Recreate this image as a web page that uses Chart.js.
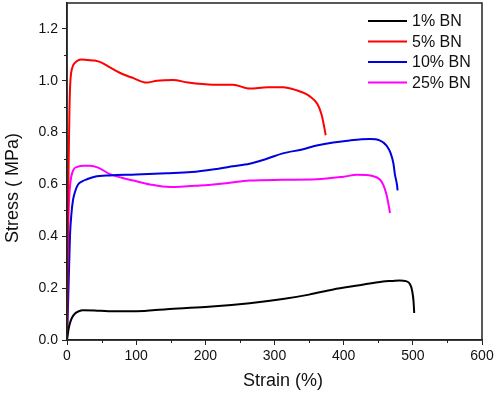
<!DOCTYPE html>
<html>
<head>
<meta charset="utf-8">
<script src="https://cdn.jsdelivr.net/npm/chart.js@4.4.1/dist/chart.umd.min.js"></script>
<style>
html,body{margin:0;padding:0;background:#fff;}
canvas{display:block;}
</style>
</head>
<body>
<canvas id="c" width="498" height="393"></canvas>
<script>
const seriesNames = ['1% BN', '5% BN', '10% BN', '25% BN'];
const seriesColors = ['#000000', '#ff0000', '#0000e0', '#ff00ff'];
const xTitle = 'Strain (%)';
const yTitle = 'Stress ( MPa)';

const strain1 = [0, 1, 2.5, 4.3, 7, 11.6, 17, 23, 40, 60, 100, 144, 200, 264, 312, 350, 385, 420, 457, 470, 481, 490, 496, 499, 501, 502];
const stress1 = [0, 0.02, 0.045, 0.065, 0.085, 0.102, 0.111, 0.115, 0.114, 0.111, 0.111, 0.119, 0.127, 0.142, 0.158, 0.175, 0.195, 0.21, 0.226, 0.228, 0.23, 0.227, 0.215, 0.19, 0.15, 0.104];

const strain5 = [0, 1.5, 2.5, 3.5, 4.5, 6, 9, 14, 20, 30, 40, 50, 60, 77, 96, 115, 130, 153, 175, 211, 240, 264, 290, 312, 330, 351, 362, 368, 372, 374];
const stress5 = [0, 0.5, 0.7, 0.88, 0.98, 1.03, 1.06, 1.075, 1.082, 1.08, 1.078, 1.07, 1.055, 1.03, 1.01, 0.993, 1.0, 1.003, 0.993, 0.985, 0.985, 0.97, 0.975, 0.975, 0.965, 0.94, 0.91, 0.87, 0.82, 0.79];

const strain10 = [0, 2, 4.3, 6.5, 8.7, 12, 16, 22, 29, 40, 62, 100, 144, 180, 216, 240, 264, 290, 312, 340, 361, 385, 409, 438, 452, 462, 468, 472, 474, 477, 478];
const stress10 = [0, 0.18, 0.4, 0.49, 0.54, 0.575, 0.6, 0.612, 0.62, 0.63, 0.635, 0.638, 0.643, 0.648, 0.66, 0.67, 0.68, 0.7, 0.72, 0.735, 0.75, 0.762, 0.77, 0.775, 0.77, 0.75, 0.72, 0.68, 0.64, 0.6, 0.577];

const strain25 = [0, 1, 2, 3, 5, 9, 15, 25, 33, 45, 62, 80, 96, 120, 149, 192, 230, 264, 312, 361, 400, 419, 443, 452, 457, 462, 465, 467];
const stress25 = [0, 0.3, 0.45, 0.54, 0.61, 0.655, 0.668, 0.672, 0.672, 0.665, 0.64, 0.625, 0.615, 0.6, 0.59, 0.596, 0.605, 0.615, 0.618, 0.62, 0.63, 0.637, 0.632, 0.62, 0.6, 0.56, 0.52, 0.49];

const xTicks = [0, 100, 200, 300, 400, 500, 600];
const xMinor = [50, 150, 250, 350, 450, 550];
const yTicks = [0, 0.2, 0.4, 0.6, 0.8, 1.0, 1.2];
const yMinor = [0.1, 0.3, 0.5, 0.7, 0.9, 1.1];

const strains = [strain1, strain5, strain10, strain25];
const stresses = [stress1, stress5, stress10, stress25];

const datasets = seriesNames.map((name, i) => ({
  label: name,
  data: strains[i].map((x, k) => ({x: x, y: stresses[i][k]})),
  borderColor: seriesColors[i],
  backgroundColor: seriesColors[i],
  borderWidth: 2,
  pointRadius: 0,
  cubicInterpolationMode: 'monotone',
  fill: false
}));

const FONT = '"Liberation Sans", Arial, sans-serif';

const framePlugin = {
  id: 'frame',
  afterDraw(chart) {
    const ctx = chart.ctx;
    const a = chart.chartArea;
    const xs = chart.scales.x, ys = chart.scales.y;
    ctx.save();
    ctx.strokeStyle = '#222';
    ctx.lineWidth = 1.5;
    ctx.strokeRect(a.left, a.top, a.right - a.left, a.bottom - a.top);
    ctx.lineWidth = 1;
    ctx.beginPath();
    xMinor.forEach(v => {
      const px = Math.round(xs.getPixelForValue(v)) + 0.5;
      ctx.moveTo(px, a.bottom);
      ctx.lineTo(px, a.bottom + 3);
    });
    yMinor.forEach(v => {
      const py = Math.round(ys.getPixelForValue(v)) + 0.5;
      ctx.moveTo(a.left, py);
      ctx.lineTo(a.left - 3, py);
    });
    ctx.stroke();
    // axis titles
    ctx.fillStyle = '#111';
    ctx.font = '18px ' + FONT;
    ctx.textAlign = 'center';
    ctx.textBaseline = 'middle';
    ctx.fillText(xTitle, 283, 381);
    ctx.save();
    ctx.translate(13, 188);
    ctx.rotate(-Math.PI / 2);
    ctx.fillText(yTitle, 0, 0);
    ctx.restore();
    // legend
    ctx.font = '16px ' + FONT;
    ctx.textBaseline = 'middle';
    ctx.textAlign = 'left';
    chart.data.datasets.forEach((ds, i) => {
      const y = 21 + i * 20.5;
      ctx.strokeStyle = ds.borderColor;
      ctx.lineWidth = 2;
      ctx.beginPath();
      ctx.moveTo(368, y);
      ctx.lineTo(407, y);
      ctx.stroke();
      ctx.fillStyle = '#111';
      ctx.fillText(ds.label, 412, y + 1);
    });
    ctx.restore();
  }
};

const bgPlugin = {
  id: 'bg',
  beforeDraw(chart) {
    const ctx = chart.ctx;
    ctx.save();
    ctx.fillStyle = '#fff';
    ctx.fillRect(0, 0, chart.width, chart.height);
    ctx.restore();
  }
};

new Chart(document.getElementById('c'), {
  type: 'line',
  data: { datasets: datasets },
  options: {
    responsive: false,
    animation: false,
    layout: { padding: { top: 3, right: 16, left: 0, bottom: 0 } },
    plugins: { legend: { display: false }, tooltip: { enabled: false } },
    scales: {
      x: {
        type: 'linear',
        min: 0, max: 600,
        afterBuildTicks: s => { s.ticks = xTicks.map(v => ({value: v})); },
        afterFit: s => { s.height = 53; s.paddingLeft = 0; s.paddingRight = 0; },
        ticks: { font: { family: FONT, size: 14 }, color: '#111', padding: 3, maxRotation: 0,
                 callback: v => String(v) },
        grid: { drawOnChartArea: false, tickLength: 5, tickColor: '#222', tickWidth: 1 },
        border: { color: '#222', width: 1.5 },
        title: { display: false }
      },
      y: {
        type: 'linear',
        min: 0, max: 1.3,
        afterBuildTicks: s => { s.ticks = yTicks.map(v => ({value: v})); },
        afterFit: s => { s.width = 67; s.paddingTop = 0; s.paddingBottom = 0; },
        ticks: { font: { family: FONT, size: 14 }, color: '#111', padding: 4,
                 callback: v => Number(v).toFixed(1) },
        grid: { drawOnChartArea: false, tickLength: 5, tickColor: '#222', tickWidth: 1 },
        border: { color: '#222', width: 1.5 },
        title: { display: false }
      }
    }
  },
  plugins: [bgPlugin, framePlugin]
});
</script>
</body>
</html>
